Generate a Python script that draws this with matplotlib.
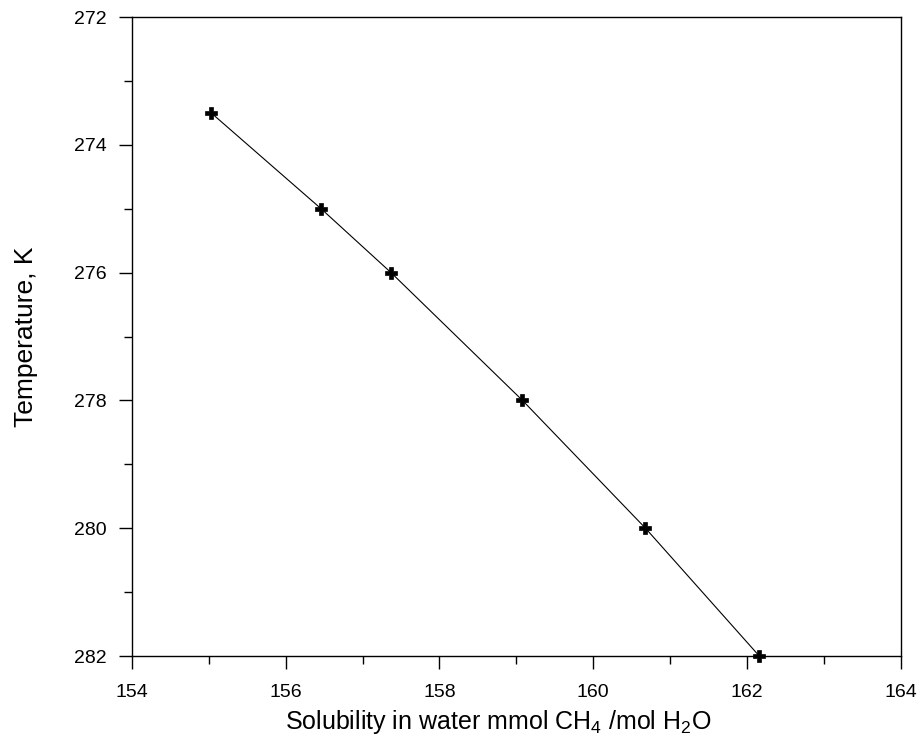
import matplotlib
matplotlib.use("Agg")
import matplotlib.pyplot as plt
from matplotlib.ticker import MultipleLocator

plt.rcParams['font.family'] = ['Liberation Sans', 'DejaVu Sans']
plt.rcParams['mathtext.fontset'] = 'custom'
plt.rcParams['mathtext.rm'] = 'Liberation Sans'

# solubility (mmol CH4 / mol H2O) vs temperature (K)
solubility = [155.03, 156.46, 157.37, 159.08, 160.68, 162.16]
temperature = [273.5, 275.0, 276.0, 278.0, 280.0, 282.0]

fig = plt.figure(figsize=(9.19, 7.4), dpi=100)
ax = fig.add_axes([0.1436, 0.1135, 0.8365, 0.8635])

ax.plot(solubility, temperature, color='black', lw=0.8,
        marker='P', markersize=8, markerfacecolor='black', markeredgecolor='black',
        markeredgewidth=0.5, clip_on=False, zorder=3)

ax.set_xlim(154, 164)
ax.set_ylim(282, 272)
ax.xaxis.set_major_locator(MultipleLocator(2))
ax.xaxis.set_minor_locator(MultipleLocator(1))
ax.yaxis.set_major_locator(MultipleLocator(2))
ax.yaxis.set_minor_locator(MultipleLocator(1))

ax.tick_params(which='major', direction='out', length=9.5, width=1, labelsize=14,
               top=False, right=False)
ax.tick_params(axis='x', which='major', pad=11)
ax.tick_params(axis='y', which='major', pad=9)
ax.tick_params(which='minor', direction='out', length=5.5, width=1, top=False, right=False)
for s in ax.spines.values():
    s.set_linewidth(1)

ax.set_xlabel(r'Solubility in water mmol CH$_4$ /mol H$_2$O', fontsize=18)
ax.set_ylabel('Temperature, K', fontsize=19)
ax.xaxis.set_label_coords(0.477, -0.082)
ax.yaxis.set_label_coords(-0.122, 0.5)

fig.savefig('out.png', dpi=100)
